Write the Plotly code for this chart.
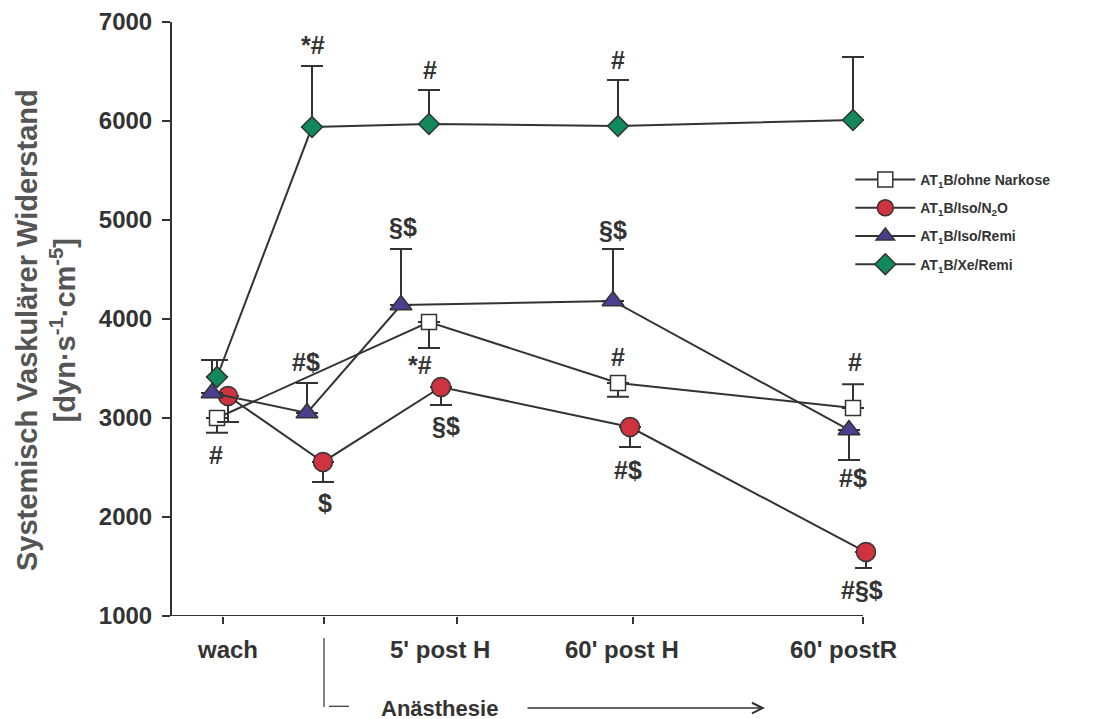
import plotly.graph_objects as go

# ---------------- data ----------------
tick_pos = [0.51, 1.52, 2.85, 4.61, 6.91]
tick_labels = ["wach", "5' post H", "60' post H", "60' postR"]
tick_label_pos = [0.55, 2.68, 4.50, 6.71]

ohne_x = [0.45, 2.57, 4.46, 6.81]
ohne_y = [3000, 3970, 3354, 3101]
ohne_up = [0, 0, 0, 240]
ohne_down = [150, 263, 140, 0]

n2o_x = [0.56, 1.51, 2.69, 4.58, 6.94]
n2o_y = [3222, 2556, 3313, 2909, 1646]
n2o_up = [0, 0, 0, 0, 0]
n2o_down = [263, 202, 182, 202, 162]

remi_x = [0.40, 1.35, 2.29, 4.41, 6.77]
remi_y = [3253, 3051, 4141, 4182, 2879]
remi_up = [333, 303, 566, 525, 0]
remi_down = [0, 0, 0, 0, 303]

xe_x = [0.45, 1.40, 2.57, 4.46, 6.81]
xe_y = [3414, 5939, 5970, 5949, 6010]
xe_up = [172, 616, 343, 465, 636]
xe_down = [0, 0, 0, 0, 0]

sig_text = ["*#", "#", "#", "§$", "§$", "#$", "*#", "§$", "#", "$", "#", "#$", "#", "#$", "#§$"]
sig_x = [1.41, 2.58, 4.46, 2.31, 4.41, 1.34, 2.48, 2.74, 0.44, 1.53, 4.46, 4.56, 6.83, 6.81, 6.90]
sig_y = [6768, 6515, 6616, 4929, 4899, 3566, 3540, 2920, 2626, 2141, 3616, 2475, 3566, 2394, 1263]

names = ["AT<sub>1</sub>B/ohne Narkose", "AT<sub>1</sub>B/Iso/N<sub>2</sub>O",
         "AT<sub>1</sub>B/Iso/Remi", "AT<sub>1</sub>B/Xe/Remi"]

# ---------------- styling ----------------
DARK = "#333333"
FONT = "Liberation Sans"

series = [
    (ohne_x, ohne_y, ohne_up, ohne_down, "square", "white", 15),
    (n2o_x, n2o_y, n2o_up, n2o_down, "circle", "#cf3340", 19),
    (remi_x, remi_y, remi_up, remi_down, "triangle-up", "#4d3f8f", 19),
    (xe_x, xe_y, xe_up, xe_down, "diamond", "#0f8a58", 16),
]

fig = go.Figure()
for i, ((xs, ys, up, dn, sym, col, sz), nm) in enumerate(zip(series, names)):
    fig.add_trace(go.Scatter(
        x=xs, y=ys, name=nm, mode="lines+markers", legendgroup=f"g{i}",
        line=dict(color=DARK, width=2),
        marker=dict(symbol=sym, size=sz, color=col, line=dict(color=DARK, width=1.5)),
        error_y=dict(type="data", symmetric=False, array=up, arrayminus=dn,
                     color=DARK, thickness=2, width=11),
        cliponaxis=False,
    ))

annotations = []
for t, x, y in zip(sig_text, sig_x, sig_y):
    annotations.append(dict(x=x, y=y, xref="x", yref="y", text=t, showarrow=False,
                            xanchor="center", yanchor="middle",
                            font=dict(family=FONT, size=25, color=DARK, weight="bold")))
for t, x in zip(tick_labels, tick_label_pos):
    annotations.append(dict(x=x, y=-0.057, xref="x", yref="paper", text=t, showarrow=False,
                            xanchor="center", yanchor="middle",
                            font=dict(family=FONT, size=24, color=DARK, weight="bold")))
# y-axis title
annotations.append(dict(x=-0.179, y=0.481, xref="paper", yref="paper",
                        xanchor="center", yanchor="middle",
                        text="Systemisch Vaskulärer Widerstand<br>[dyn·s<sup>-1</sup>·cm<sup>-5</sup>]",
                        textangle=-90, showarrow=False,
                        font=dict(family=FONT, size=29, color="#555555", weight="bold")))
# Anästhesie label and arrow
annotations.append(dict(x=2.67, y=-0.155, xref="x", yref="paper", text="Anästhesie",
                        xanchor="center", yanchor="middle",
                        showarrow=False, font=dict(family=FONT, size=22, color=DARK, weight="bold")))
annotations.append(dict(x=5.93, y=-0.155, xref="x", yref="paper", ax=3.54, ay=0,
                        axref="x", ayref="pixel", text="", showarrow=True,
                        arrowhead=5, arrowsize=1.4, arrowwidth=1.5, arrowcolor=DARK))

shapes = [
    # x axis line ending at last tick
    dict(type="line", xref="x", yref="y", x0=0, x1=tick_pos[-1], y0=1000, y1=1000,
         line=dict(color=DARK, width=2)),
    dict(type="line", xref="x", yref="paper", x0=tick_pos[1], x1=tick_pos[1],
         y0=-0.037, y1=-0.153, line=dict(color=DARK, width=1.2)),
    dict(type="line", xref="x", yref="paper", x0=1.57, x1=1.77,
         y0=-0.152, y1=-0.152, line=dict(color=DARK, width=1.2)),
]

fig.update_layout(
    width=1103, height=719,
    margin=dict(l=164, r=239, t=14, b=111, autoexpand=False),
    paper_bgcolor="white", plot_bgcolor="white",
    showlegend=True,
    legend=dict(x=0.969, y=0.761, xanchor="left", yanchor="top",
                font=dict(family=FONT, size=14, color=DARK, weight="bold"),
                bgcolor="rgba(0,0,0,0)", tracegroupgap=7, itemwidth=60),
    annotations=annotations,
    shapes=shapes,
    xaxis=dict(range=[0, 7.0], tickvals=tick_pos, ticktext=[""] * len(tick_pos),
               showline=False, ticks="outside", automargin=False,
               ticklen=7, tickwidth=2, tickcolor=DARK, showgrid=False, zeroline=False),
    yaxis=dict(range=[1000, 7000], tickvals=[1000, 2000, 3000, 4000, 5000, 6000, 7000],
               showline=True, linecolor=DARK, linewidth=2, ticks="outside", automargin=False,
               ticklen=8, tickwidth=2, tickcolor=DARK, showgrid=False, zeroline=False,
               ticklabelstandoff=5,
               tickfont=dict(family=FONT, size=24, color=DARK, weight="bold")),
)

fig.write_html("out.html")
